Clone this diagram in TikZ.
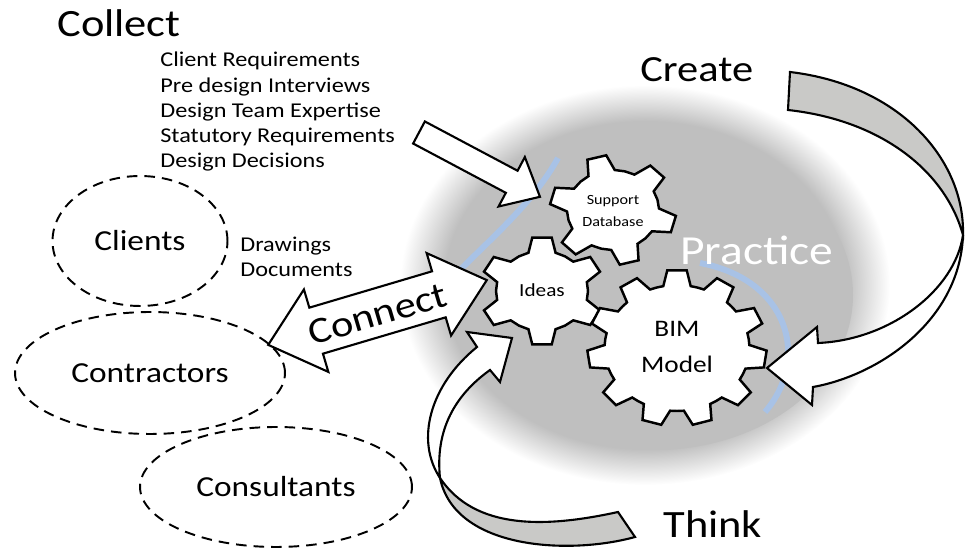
\documentclass[tikz,border=0pt]{standalone}
\usepackage{fontspec}
\setmainfont{Carlito}[FakeStretch=1.15]
\usetikzlibrary{shapes.geometric}
\definecolor{bimgray}{RGB}{191,191,191}
\definecolor{bimarrow}{RGB}{201,201,199}
\definecolor{bimblue}{RGB}{168,194,230}

\pgfdeclareradialshading{bimglow}{\pgfpoint{0bp}{0bp}}{color(0bp)=(bimgray); color(20.5bp)=(bimgray); color(25bp)=(white); color(50bp)=(white)}

\tikzset{
  gearline/.style={draw=black, fill=white, line width=1.4pt, line join=miter},
  arrowline/.style={draw=black, line width=1.2pt, line join=miter},
  ringnode/.style={ellipse, draw=black, line width=1.1pt, dash pattern=on 6pt off 4pt, font=\fontsize{16.5}{20}\selectfont},
  bigword/.style={inner sep=0pt, anchor=base west, font=\fontsize{22}{26}\selectfont},
  listtext/.style={inner sep=0pt, anchor=base west, font=\fontsize{12}{14}\selectfont},
}

% x, y, teeth, inner radius, outer radius, turn
\newcommand{\bimgear}[6]{%
  \begin{scope}[shift={(#1,#2)}, xscale=1.15]
    \draw[gearline] ({#6+180/#3}:#4) \foreach \k in {1,...,#3}{
      -- ({#6+360/#3*\k-687/#4}:#4) -- ({#6+360/#3*\k-487/#5}:#5)
      -- ({#6+360/#3*\k+487/#5}:#5) -- ({#6+360/#3*\k+687/#4}:#4)
      -- ({#6+360/#3*\k+180/#3}:#4)} -- cycle;
  \end{scope}}

\begin{document}
\begin{tikzpicture}[x=0.02cm, y=-0.02cm]
\useasboundingbox (0,0) rectangle (965,550);

% the practice disc
\shade[shading=bimglow] (645,285) ellipse (245 and 200);
\fill[bimgray] (655,295) ellipse (198 and 155);

\draw[bimblue, line width=3.4pt] (558,158) .. controls (535,200) and (495,235) .. (460,270);
\draw[bimblue, line width=3.4pt] (700,263) .. controls (790,280) and (810,360) .. (765,412);

% gears
\bimgear{613}{210}{6}{40}{55}{15}
\bimgear{542}{291}{6}{40}{54}{30}
\bimgear{677}{348}{11}{63}{78}{270}

\node[align=center, font=\fontsize{8}{12.5}\selectfont] (supportdb) at (613,211) {Support\\Database};
\node[font=\fontsize{10.5}{12}\selectfont] (ideas) at (542,290) {Ideas};
\node[align=center, font=\fontsize{13.5}{21}\selectfont] (bimmodel) at (677,347) {BIM\\Model};
\node[bigword, text=white, font=\fontsize{23.5}{28}\selectfont] (practice) at (680,265) {Practice};

% collect arrow
\begin{scope}[shift={(419,132.5)}, rotate=-28]
  \filldraw[arrowline, fill=white] (0,-12.5) -- (105,-12.5) -- (105,-28) -- (137,0)
    -- (105,28) -- (105,12.5) -- (0,12.5) -- cycle;
\end{scope}

% connect arrow
\begin{scope}[shift={(377.5,312.5)}, rotate=16.5]
  \filldraw[arrowline, fill=white] (-114,0) -- (-64,-43) -- (-64,-24) -- (64,-24) -- (64,-43)
    -- (114,0) -- (64,43) -- (64,24) -- (-64,24) -- (-64,43) -- cycle;
\end{scope}
\node[rotate=16.5, inner sep=0pt, font=\fontsize{21}{24}\selectfont] (connect) at (377.5,314) {Connect};

% create arrow
\filldraw[arrowline, fill=bimarrow] (790,72) .. controls (900,85) and (965,160) .. (963,235)
  .. controls (945,170) and (880,120) .. (788,110) -- cycle;
\filldraw[arrowline, fill=white] (963,235) .. controls (955,290) and (890,340) .. (818,343)
  -- (817,327) -- (767,368) -- (812,405) -- (813,387)
  .. controls (880,375) and (960,320) .. (963,235) -- cycle;

% think arrow
\filldraw[arrowline, fill=bimarrow] (440,478) .. controls (455,550) and (570,555) .. (635,537)
  -- (618,512) .. controls (545,528) and (475,530) .. (440,478) -- cycle;
\filldraw[arrowline, fill=white] (440,478) .. controls (415,440) and (430,385) .. (477,347)
  -- (467,332) -- (512,338) -- (500,382) -- (490,370)
  .. controls (455,395) and (435,430) .. (440,478) -- cycle;

% words
\node[bigword] (collect) at (57,37) {Collect};
\node[bigword, font=\fontsize{21}{25}\selectfont] (create) at (640,82) {Create};
\node[bigword] (think) at (663,538) {Think};

\foreach \t [count=\i] in {Client Requirements, Pre design Interviews, Design Team Expertise,
    Statutory Requirements, Design Decisions}{
  \node[listtext] (need\i) at (160, 67+25.2*\i-25.2) {\t};
}

\node[ringnode, minimum width=3.5cm, minimum height=2.6cm] (clients) at (140,241) {Clients};
\node[ringnode, minimum width=5.4cm, minimum height=2.44cm] (contractors) at (150,373) {Contractors};
\node[ringnode, minimum width=5.44cm, minimum height=2.4cm] (consultants) at (276,487) {Consultants};

\node[listtext] (drawings) at (240,252) {Drawings};
\node[listtext] (documents) at (240,277) {Documents};

\end{tikzpicture}
\end{document}
